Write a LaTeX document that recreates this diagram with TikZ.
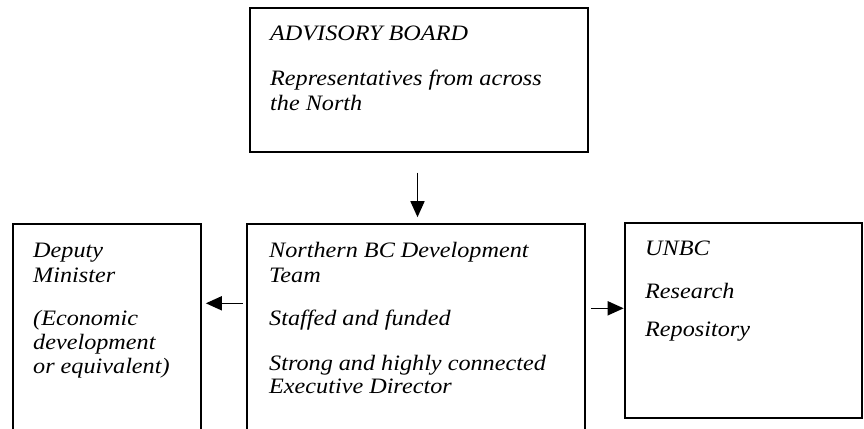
\documentclass[tikz,border=0pt]{standalone}
\usepackage{fontspec}
\setmainfont{Liberation Serif}[FakeStretch=1.1]
\usetikzlibrary{arrows.meta}
\begin{document}
\begin{tikzpicture}[x=1pt,y=-1pt,
  box/.style={draw,line width=1.6pt,inner sep=0pt},
  lbl/.style={anchor=base west,inner sep=0pt,font=\fontsize{22}{24}\selectfont\itshape},
  arr/.style={line width=1.6pt,-{Triangle[length=16pt,width=14pt]}}]
\useasboundingbox (0,0) rectangle (864,428);
\clip (0,0) rectangle (864,428);
% boxes
\node[box,minimum width=338pt,minimum height=143.4pt] (adv) at (419,80) {};
\node[box,minimum width=187.7pt,minimum height=226pt] (dep) at (106.85,337) {};
\node[box,minimum width=338pt,minimum height=226pt] (team) at (416,337) {};
\node[box,minimum width=237pt,minimum height=195pt] (unbc) at (743.5,320.5) {};
% top box text
\node[lbl] (a1) at (270,40.5) {ADVISORY BOARD};
\node[lbl] (a2) at (270,85.5) {Representatives from across};
\node[lbl] (a3) at (270,110.5) {the North};
% left box text
\node[lbl] (d1) at (33,257.5) {Deputy};
\node[lbl] (d2) at (33,282.5) {Minister};
\node[lbl] (d3) at (33,325.5) {(Economic};
\node[lbl] (d4) at (33,349.5) {development};
\node[lbl] (d5) at (33,373.5) {or equivalent)};
% middle box text
\node[lbl] (m1) at (269,257.5) {Northern BC Development};
\node[lbl] (m2) at (269,282.5) {Team};
\node[lbl] (m3) at (269,325.5) {Staffed and funded};
\node[lbl] (m4) at (269,370.5) {Strong and highly connected};
\node[lbl] (m5) at (269,393) {Executive Director};
% right box text
\node[lbl] (u1) at (645,255) {UNBC};
\node[lbl] (u2) at (645,298) {Research};
\node[lbl] (u3) at (645,336.5) {Repository};
% arrows
\coordinate (ds) at (417.5,172.5);
\draw[arr,shorten >=6pt] (ds) -- (ds |- team.north);
\coordinate (ly) at (0,303.3);
\draw[arr,shorten <=3.7pt,shorten >=4.3pt] (ly -| team.west) -- (ly -| dep.east);
\coordinate (ry) at (0,308.3);
\draw[arr,shorten <=5pt,shorten >=0.5pt] (ry -| team.east) -- (ry -| unbc.west);
\end{tikzpicture}
\end{document}
